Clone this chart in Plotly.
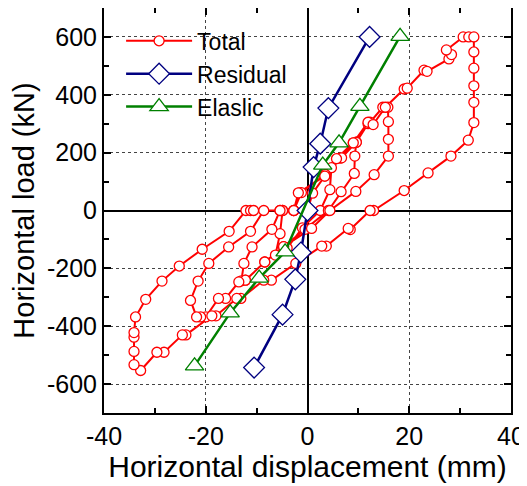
import plotly.graph_objects as go

# ---- Data ----
total_x = [
    0, 1.0, 3.4, 4.7, 4.4, 2.5, -1.0, -4.0, -6.3, -5.4, -4.9, -2.7,
    -1.5, 3.5, 6.4, 9.0, 9.6, 9.3, 9.2, 6.6, 4.1, -0.5, -4.7, -8.4, -12.2, -13.0,
    -12.5, -10.9, -7.0, -5.4, -4.9, -2.7,
    -1.2, 3.5, 6.7, 9.6, 11.9, 12.3, 14.8, 15.8, 15.9, 15.9, 15.9, 13.1, 9.5, 4.4,
    0.8, -4.7, -8.4, -12.2, -13.5, -16.1, -17.5, -20.0, -21.0, -21.8,
    -23.0, -21.5, -19.4, -15.5, -11.2, -8.6, -5.4, -2.7,
    -1.8, 3.4, 5.7, 9.0, 11.9, 12.9, 15.3, 19.0, 19.6, 22.9, 23.5, 27.8, 28.3, 27.3,
    30.6, 31.7, 32.7, 32.7, 32.7, 32.7, 32.7, 32.7, 31.6, 28.2, 23.7, 19.0,
    13.0, 12.3, 8.4, 8.0, 3.7, 2.8, -2.3, -7.1, -8.6, -13.1, -13.9, -18.0, -18.8,
    -23.9, -24.6, -28.2, -29.6, -32.8,
    -34.1, -34.1, -34.1, -34.1, -33.8, -31.8, -28.6, -25.2, -20.7, -15.4,
    -12.1, -11.2, -10.6,
]
total_y = [
    0, 60, 119, 148, 72, 0, -60, -130, -154, -80, 0, 0,
    62, 124, 181, 234, 236, 188, 128, 65, 0, -65, -125, -178, -241, -243,
    -183, -126, -65, 0, 0, 0,
    62, 124, 182, 236, 300, 305, 357, 357, 307, 246, 188, 124, 66, 0,
    -62, -125, -178, -241, -247, -304, -304, -368, -368, -368,
    -311, -244, -183, -126, -72, 0, 0, 0,
    61, 119, 179, 234, 305, 297, 357, 420, 423, 485, 481, 524, 539, 555,
    600, 600, 600, 548, 492, 431, 374, 304, 243, 188, 130, 69,
    0, 0, -66, -62, -123, -123, -183, -241, -241, -304, -304, -364, -364,
    -430, -430, -490, -490, -553,
    -533, -487, -438, -422, -368, -307, -244, -192, -134, -72,
    0, 0, 0,
]

residual_x = [-10.5, -4.9, -2.4, -1.3, 0, 1.2, 2.5, 4.1, 12.2]
residual_y = [-543, -360, -238, -145, 0, 150, 231, 354, 600]

elastic_x = [-22.2, -15.2, -9.5, -4.4, 3.0, 6.2, 10.3, 18.2]
elastic_y = [-537, -354, -234, -143, 157, 234, 360, 602]

x_ticks = [-40, -20, 0, 20, 40]
y_ticks = [-600, -400, -200, 0, 200, 400, 600]

FONT = "Liberation Sans, Arial, sans-serif"

fig = go.Figure()
fig.add_trace(go.Scatter(
    x=total_x, y=total_y, name="Total", mode="lines+markers",
    line=dict(color="#FF0000", width=2),
    marker=dict(symbol="circle", size=10, color="white",
                line=dict(color="#FF0000", width=1.3)),
))
fig.add_trace(go.Scatter(
    x=residual_x, y=residual_y, name="Residual", mode="lines+markers",
    line=dict(color="#000080", width=2.5),
    marker=dict(symbol="diamond", size=16, color="white",
                line=dict(color="#000080", width=1.3)),
))
fig.add_trace(go.Scatter(
    x=elastic_x, y=elastic_y, name="Elaslic", mode="lines+markers",
    line=dict(color="#008000", width=2.5),
    marker=dict(symbol="triangle-up", size=16, color="white",
                line=dict(color="#008000", width=1.3)),
))

axis_common = dict(
    showline=True, linecolor="black", linewidth=2, mirror="ticks",
    ticks="inside", ticklen=7, tickwidth=1.5, tickcolor="black",
    showgrid=True, gridcolor="#444444", gridwidth=1, griddash="dot",
    zeroline=True, zerolinecolor="black", zerolinewidth=2,
    tickfont=dict(family=FONT, size=25, color="black"),
    minor=dict(ticks="inside", ticklen=5, tickwidth=1.5, tickcolor="black", showgrid=False),
    automargin=False,
)

fig.update_xaxes(
    range=[-40, 40], tickvals=x_ticks, ticktext=[str(v) for v in x_ticks],
    minor_dtick=10,
    title=dict(text="Horizontal displacement (mm)", font=dict(family=FONT, size=30, color="black"), standoff=0),
    **axis_common,
)
fig.update_yaxes(
    range=[-700, 700], tickvals=y_ticks, ticktext=[str(v) for v in y_ticks],
    minor_dtick=100,
    title=dict(text="Horizontal load (kN)", font=dict(family=FONT, size=29, color="black"), standoff=4),
    **axis_common,
)

# page body adds an 8px offset; figure sized so the plot box lands at 103..510 x 8..413
fig.update_layout(
    width=519, height=478,
    margin=dict(l=96, r=16, t=0, b=73),
    paper_bgcolor="white", plot_bgcolor="white",
    font=dict(family=FONT, color="black"),
    legend=dict(x=0.042, y=0.972, xanchor="left", yanchor="top",
                bgcolor="rgba(0,0,0,0)", font=dict(family=FONT, size=23, color="black"),
                itemwidth=66, tracegroupgap=0),
    showlegend=True,
)

fig.write_html("out.html")
